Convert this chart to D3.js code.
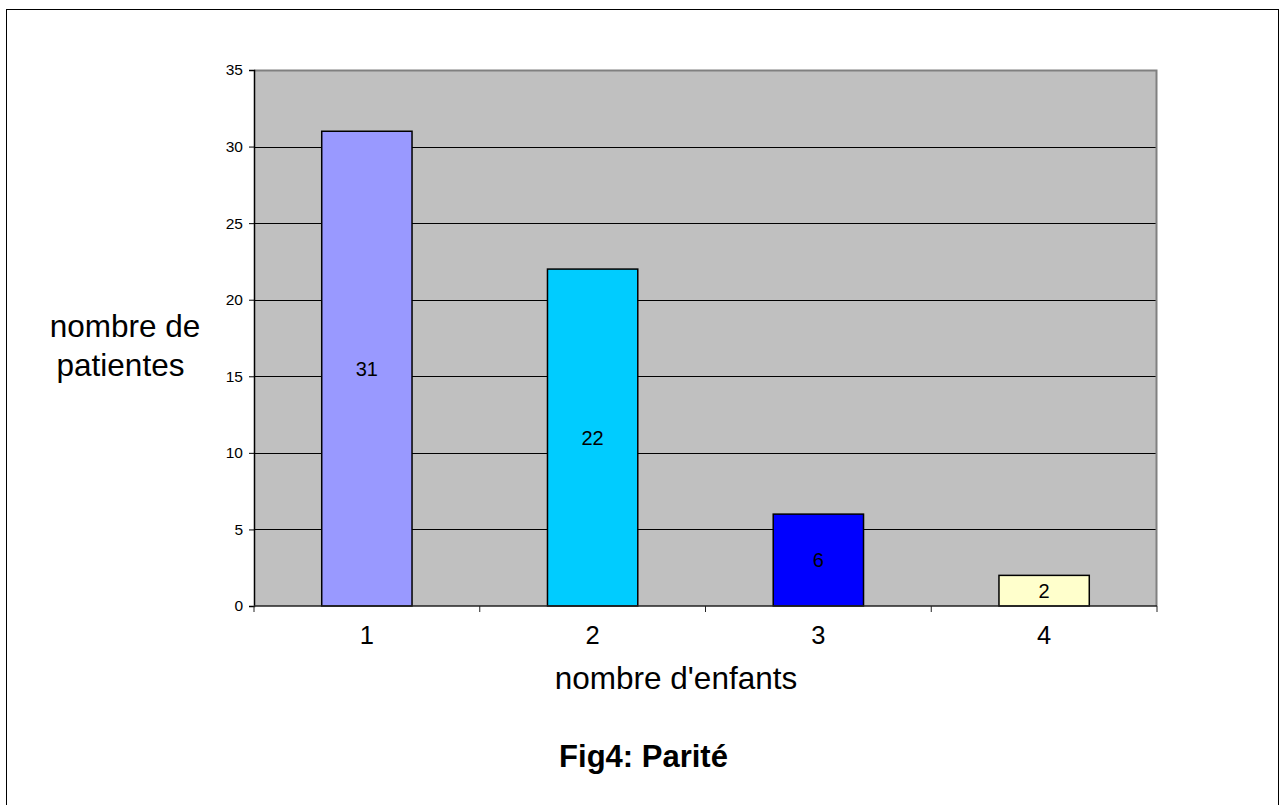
<!DOCTYPE html>
<html>
<head>
<meta charset="utf-8">
<script src="https://cdn.jsdelivr.net/npm/d3@7"></script>
<style>
  body { margin: 0; background: #fff; }
  svg { font-family: "Liberation Sans", Arial, sans-serif; display: block; }
</style>
</head>
<body>
<svg id="chart"></svg>
<script>
const categories = ["1", "2", "3", "4"];
const values = [31, 22, 6, 2];
const colors = ["#9999FF", "#00CCFF", "#0000FF", "#FFFFCC"];
const yTicks = [0, 5, 10, 15, 20, 25, 30, 35];

const w = 1286;
const h = 805;
const m = { left: 254, right: 1157, top: 70, bottom: 606 };

const svg = d3.select("#chart").attr("width", w).attr("height", h);

// outer frame
svg.append("rect")
  .attr("x", 6.5).attr("y", 9.5)
  .attr("width", 1272).attr("height", 803)
  .attr("fill", "white").attr("stroke", "#000").attr("stroke-width", 1);

const x = d3.scaleBand().domain(categories).range([m.left, m.right]).paddingInner(0).paddingOuter(0);
const y = d3.scaleLinear().domain([0, 35]).range([m.bottom, m.top]);

// plot background
svg.append("rect")
  .attr("x", m.left).attr("y", m.top)
  .attr("width", m.right - m.left).attr("height", m.bottom - m.top)
  .attr("fill", "#C0C0C0");

// gridlines
svg.append("g")
  .selectAll("line")
  .data(yTicks.filter((d) => d > 0 && d < 35))
  .enter()
  .append("line")
  .attr("x1", m.left).attr("x2", m.right)
  .attr("y1", (d) => Math.round(y(d)) + 0.5)
  .attr("y2", (d) => Math.round(y(d)) + 0.5)
  .attr("stroke", "#000");

// top and right border in grey
svg.append("path")
  .attr("d", `M${m.left},${m.top + 0.5}H${m.right - 0.5}V${m.bottom}`)
  .attr("fill", "none").attr("stroke", "#808080").attr("stroke-width", 2);

// bars
const barW = x.bandwidth() * 0.4;
svg.append("g")
  .selectAll("rect")
  .data(values)
  .enter()
  .append("rect")
  .attr("x", (d, i) => x(categories[i]) + (x.bandwidth() - barW) / 2)
  .attr("y", (d) => y(d))
  .attr("width", barW)
  .attr("height", (d) => y(0) - y(d))
  .attr("fill", (d, i) => colors[i])
  .attr("stroke", "#000")
  .attr("stroke-width", 1.5);

// value labels
svg.append("g")
  .selectAll("text")
  .data(values)
  .enter()
  .append("text")
  .attr("x", (d, i) => x(categories[i]) + x.bandwidth() / 2)
  .attr("y", (d) => (y(d) + y(0)) / 2)
  .attr("dy", "0.36em")
  .attr("text-anchor", "middle")
  .attr("font-size", 20)
  .attr("fill", "#000")
  .text((d) => d);

// y axis
const yAxis = d3.axisLeft(y).tickValues(yTicks).tickSize(5).tickPadding(6);
const gy = svg.append("g")
  .attr("transform", `translate(${m.left}, 0)`)
  .call(yAxis)
  .attr("font-size", 15.5)
  .attr("font-family", "Liberation Sans, Arial, sans-serif");
gy.select(".domain").attr("stroke", "#000").attr("stroke-width", 1.5);
gy.selectAll(".tick text").attr("fill", "#000");
gy.selectAll(".tick line").attr("stroke", "#000");

// x axis: ticks at category boundaries
svg.append("line")
  .attr("x1", m.left).attr("x2", m.right)
  .attr("y1", m.bottom).attr("y2", m.bottom)
  .attr("stroke", "#222").attr("stroke-width", 1.5);
const bounds = categories.map((c) => x(c)).concat([x(categories[categories.length - 1]) + x.bandwidth()]);
svg.append("g")
  .selectAll("line")
  .data(bounds)
  .enter()
  .append("line")
  .attr("x1", (d) => d).attr("x2", (d) => d)
  .attr("y1", m.bottom).attr("y2", m.bottom + 6)
  .attr("stroke", "#222");
svg.append("g")
  .selectAll("text")
  .data(categories)
  .enter()
  .append("text")
  .attr("x", (d) => x(d) + x.bandwidth() / 2)
  .attr("y", 644)
  .attr("text-anchor", "middle")
  .attr("font-size", 25.5)
  .attr("fill", "#000")
  .text((d) => d);

// axis titles
svg.append("text")
  .attr("x", 676).attr("y", 689)
  .attr("text-anchor", "middle")
  .attr("font-size", 31.5)
  .text("nombre d'enfants");

const yTitle = svg.append("text")
  .attr("text-anchor", "middle")
  .attr("font-size", 31.5);
yTitle.append("tspan").attr("x", 125).attr("y", 337).text("nombre de");
yTitle.append("tspan").attr("x", 120.5).attr("y", 376).text("patientes");

svg.append("text")
  .attr("x", 643.5).attr("y", 767)
  .attr("text-anchor", "middle")
  .attr("font-size", 31)
  .attr("font-weight", "bold")
  .text("Fig4: Parité");
</script>
</body>
</html>
